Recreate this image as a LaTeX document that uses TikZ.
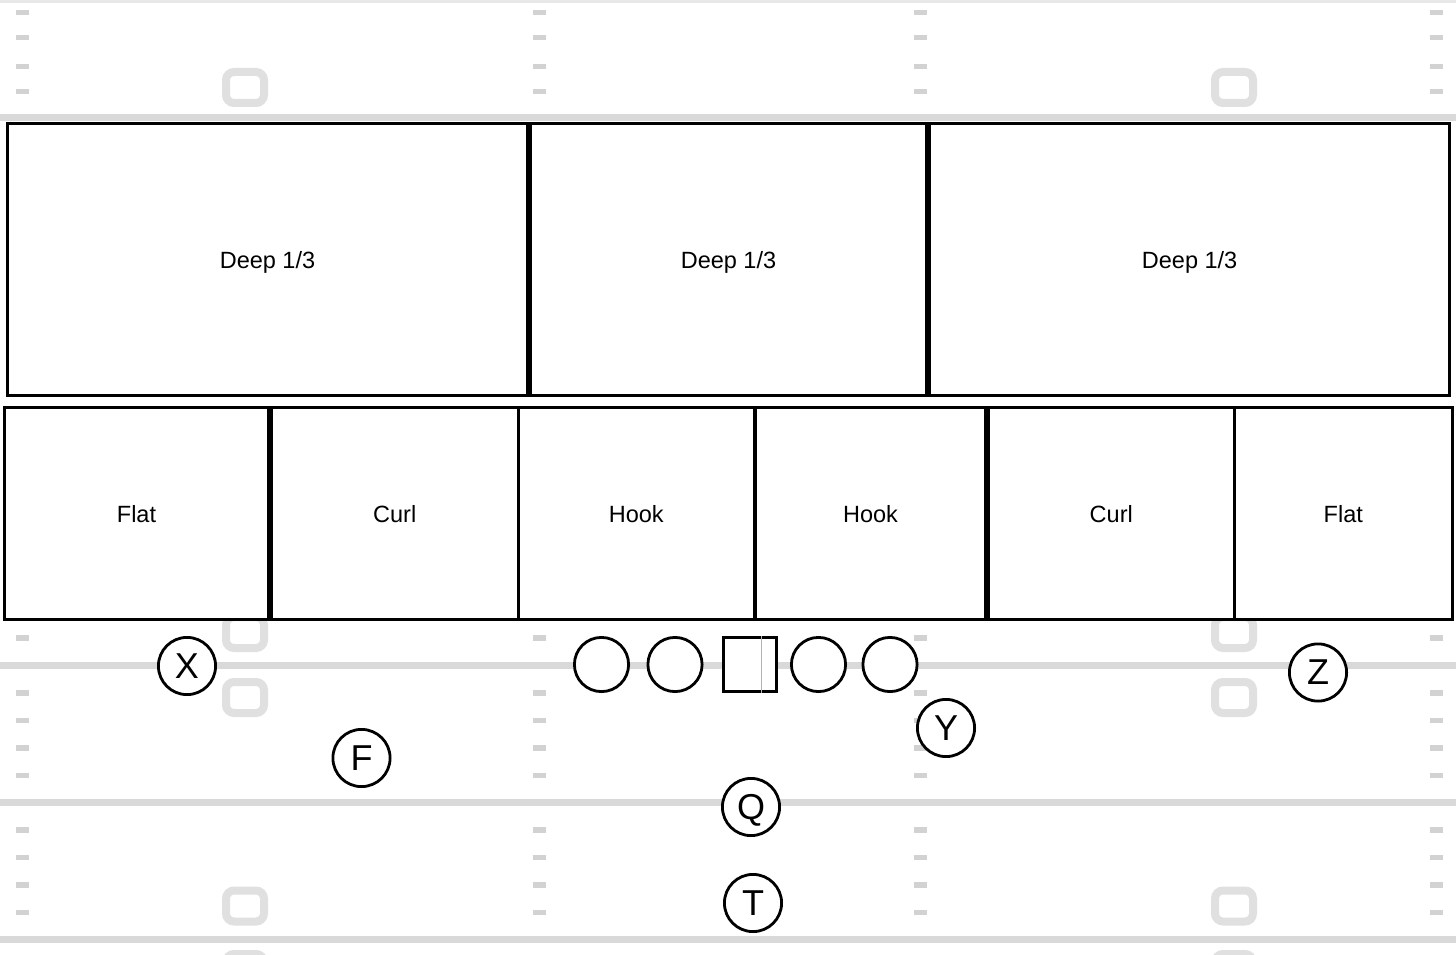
\documentclass[tikz,border=0pt]{standalone}
\usepackage{fontspec}
\setmainfont{Liberation Sans}
\definecolor{yardgray}{HTML}{D9D9D9}
\definecolor{numgray}{HTML}{E0E0E0}
\definecolor{hashgray}{HTML}{D2D2D2}
\definecolor{edgegray}{HTML}{E8E8E8}
\begin{document}
\begin{tikzpicture}[x=1pt,y=-1pt,
  yard/.style={draw=yardgray, line width=7pt},
  hashmk/.style={fill=hashgray, draw=none, minimum width=13pt, minimum height=5.5pt, inner sep=0pt, rectangle},
  numbox/.style={draw=numgray, line width=8pt, rounded corners=8pt, minimum width=38pt, minimum height=31pt, inner sep=0pt, rectangle},
  zone/.style={draw=black, line width=3pt, fill=white, rectangle, inner sep=0pt, outer sep=0pt,
    font=\fontsize{23.5}{28}\selectfont, text depth=0pt},
  player/.style={draw=black, line width=2.8pt, fill=white, circle, inner sep=0pt, minimum size=57.2pt,
    font=\fontsize{36}{40}\selectfont, text depth=0pt},
  lineman/.style={draw=black, line width=2.8pt, fill=white, circle, inner sep=0pt, minimum size=54.2pt},
  center/.style={draw=black, line width=2.8pt, fill=white, rectangle, inner sep=0pt, minimum size=53.7pt}
]
\useasboundingbox (0,0) rectangle (1456,955);
\fill[white] (0,0) rectangle (1456,955);
% field edge
\draw[edgegray, line width=3pt] (0,1.5) -- (1456,1.5);
% yard lines
\foreach \yy in {117.5,665,802,939}
  \draw[yard] (0,\yy) -- (1456,\yy);
% hash marks
\foreach \hx in {22.5,539.5,920,1436}{
  \foreach \hy in {12.3,37.3,66.7,91.7,638,693,720.5,748,775.5,830,857.5,885,912.5}
    \node[hashmk] at (\hx,\hy) {};
}
% yard numbers
\foreach \nx in {245,1234}{
  \foreach \ny in {87.5,632.5,697.5,906,969.5}
    \node[numbox] at (\nx,\ny) {};
}
% deep zones
\node[zone, minimum width=520pt, minimum height=272pt] (deepL) at (267.5,259.5) {Deep 1/3};
\node[zone, minimum width=396pt, minimum height=272pt] (deepM) at (728.5,259.5) {Deep 1/3};
\node[zone, minimum width=520.5pt, minimum height=272pt] (deepR) at (1189.6,259.5) {Deep 1/3};
% underneath zones
\node[zone, minimum width=264pt, minimum height=212pt] (flatL) at (136.5,513.5) {Flat};
\node[zone, minimum width=246.5pt, minimum height=212pt] (curlL) at (394.75,513.5) {Curl};
\node[zone, minimum width=236.5pt, minimum height=212pt] (hookL) at (636.25,513.5) {Hook};
\node[zone, minimum width=230pt, minimum height=212pt] (hookR) at (870.5,513.5) {Hook};
\node[zone, minimum width=245.5pt, minimum height=212pt] (curlR) at (1111.25,513.5) {Curl};
\node[zone, minimum width=218.5pt, minimum height=212pt] (flatR) at (1343.25,513.5) {Flat};
% offensive line
\node[lineman] (lt) at (601.5,664.5) {};
\node[lineman] (lg) at (675,664.5) {};
\node[center] (c) at (750,664.5) {};
\draw[gray!60, line width=0.8pt] ([xshift=11pt]c.north) -- ([xshift=11pt]c.south);
\node[lineman] (rg) at (818.5,664.5) {};
\node[lineman] (rt) at (890,664.5) {};
% skill players
\node[player] (X) at (187,666) {X};
\node[player] (F) at (361.5,758) {F};
\node[player] (Y) at (946,728) {Y};
\node[player] (Z) at (1318,672.5) {Z};
\node[player] (Q) at (751,807) {Q};
\node[player] (T) at (753,903) {T};
\end{tikzpicture}
\end{document}
